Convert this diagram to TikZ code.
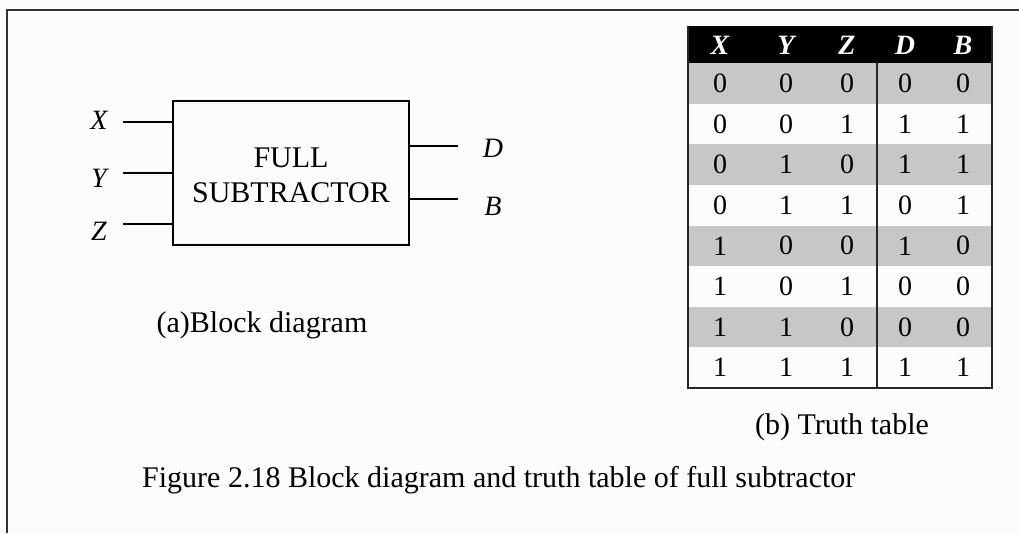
\documentclass[tikz,border=0pt]{standalone}
\usepackage{fontspec}
\setmainfont{Liberation Serif}
\begin{document}
\begin{tikzpicture}[x=1pt,y=-1pt,
  txt/.style={inner sep=0pt,font=\fontsize{30}{35}\selectfont},
  lbl/.style={inner sep=0pt,font=\fontsize{28}{32}\selectfont\itshape},
  hdr/.style={inner sep=0pt,text=white,font=\fontsize{28}{32}\selectfont\bfseries\itshape},
  cell/.style={inner sep=0pt,font=\fontsize{28}{32}\selectfont},
  wire/.style={line width=1.6pt}]
\useasboundingbox (0,0) rectangle (1019,533);
\fill[black!1] (0,0) rectangle (1019,533);
% frame
\draw[line width=2pt,black!80] (7,533) -- (7,10) -- (1019,10);

% block diagram
\node[draw,line width=1.6pt,minimum width=236pt,minimum height=144pt,inner sep=0pt] (box) at (291,173) {};
\node[txt,align=center] (boxtxt) at (291,175) {FULL\\SUBTRACTOR};
\node[lbl] (lx) at (99,120) {X};
\node[lbl] (ly) at (99,178) {Y};
\node[lbl] (lz) at (99,231) {Z};
\node[lbl] (ld) at (493,148) {D};
\node[lbl] (lb) at (493,206) {B};
\coordinate (xin) at (123,122);
\coordinate (yin) at (123,173);
\coordinate (zin) at (123,224);
\coordinate (dout) at (458,146);
\coordinate (bout) at (458,199);
\draw[wire] (xin) -- (xin -| box.west);
\draw[wire] (yin) -- (yin -| box.west);
\draw[wire] (zin) -- (zin -| box.west);
\draw[wire] (dout -| box.east) -- (dout);
\draw[wire] (bout -| box.east) -- (bout);
\node[txt] (capa) at (262,325) {(a)Block diagram};

% truth table
\fill[black] (688,26) rectangle (992,63);
\foreach \i in {0,2,4,6} {
  \fill[black!22] (688,{63+\i*40.625}) rectangle (992,{63+(\i+1)*40.625});
}
\draw[line width=1.6pt,black!85] (688,26) -- (688,388) -- (992,388) -- (992,26);
\draw[line width=1.6pt,black!85] (877,63) -- (877,388);
\foreach \n/\xx in {X/720,Y/786,Z/847,D/905,B/963} {
  \node[hdr] (h\n) at (\xx,45) {\n};
}
\foreach \row [count=\r from 0] in {{0,0,0,0,0},{0,0,1,1,1},{0,1,0,1,1},{0,1,1,0,1},{1,0,0,1,0},{1,0,1,0,0},{1,1,0,0,0},{1,1,1,1,1}} {
  \foreach \v [count=\c from 1] in \row {
    \pgfmathsetmacro{\cx}{{720,786,847,905,963}[\c-1]}
    \node[cell] (c\r-\c) at (\cx,{63+(\r+0.5)*40.625}) {\v};
  }
}
\node[txt] (capb) at (842,427) {(b) Truth table};
\node[txt,anchor=base west] (fig) at (142,487) {Figure 2.18 Block diagram and truth table of full subtractor};
\end{tikzpicture}
\end{document}
